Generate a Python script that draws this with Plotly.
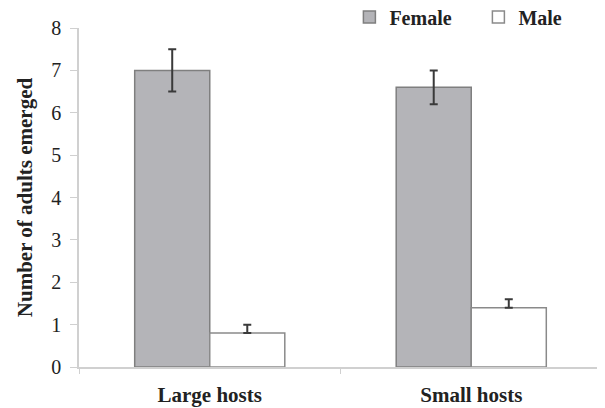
import plotly.graph_objects as go

categories = ["Large hosts", "Small hosts"]
female = [7.0, 6.6]
female_err = [0.5, 0.4]
male = [0.8, 1.4]
male_err = [0.2, 0.2]
yticks = [0, 1, 2, 3, 4, 5, 6, 7, 8]

serif = "Liberation Serif, Times New Roman, serif"

fig = go.Figure()
fig.add_trace(go.Bar(
    name="Female", x=categories, y=female,
    marker=dict(color="#b4b4b8", line=dict(color="#7f7f7f", width=1.5)),
    error_y=dict(type="data", array=female_err, color="#3a3a3a", thickness=2, width=4),
))
fig.add_trace(go.Bar(
    name="Male", x=categories, y=male,
    marker=dict(color="#ffffff", line=dict(color="#8a8a8a", width=1.5)),
    error_y=dict(type="data", array=male_err, arrayminus=[0, 0], symmetric=False,
                 color="#3a3a3a", thickness=2, width=4),
))

fig.update_layout(
    width=597, height=400,
    margin=dict(l=71, r=3, t=20, b=41, autoexpand=False),
    paper_bgcolor="white", plot_bgcolor="white",
    barmode="group", bargap=0.426, bargroupgap=0,
    font=dict(family=serif, color="#222222"),
    legend=dict(orientation="h", x=0.517, y=1.09, xanchor="left", yanchor="top",
                font=dict(family=serif, size=20, color="#222222", weight="bold"),
                entrywidth=84, tracegroupgap=0, bgcolor="rgba(0,0,0,0)"),
    showlegend=True,
)
fig.update_yaxes(
    range=[0, 8], tickvals=yticks, showgrid=False, zeroline=False,
    showline=True, linecolor="#d0d0d0", linewidth=1.5,
    ticks="outside", ticklen=7, tickcolor="#d0d0d0", ticklabelstandoff=5,
    tickfont=dict(family=serif, size=20, color="#222222"),
    title=dict(text="Number of adults emerged", font=dict(family=serif, size=21, color="#222222", weight="bold"), standoff=13),
)
fig.update_xaxes(
    showgrid=False, showline=True, linecolor="#d0d0d0", linewidth=1.5,
    ticks="outside", tickson="boundaries", ticklen=5, tickcolor="#d0d0d0", ticklabelstandoff=8,
    tickfont=dict(family=serif, size=21, color="#222222", weight="bold"),
)

fig.write_html("out.html")
